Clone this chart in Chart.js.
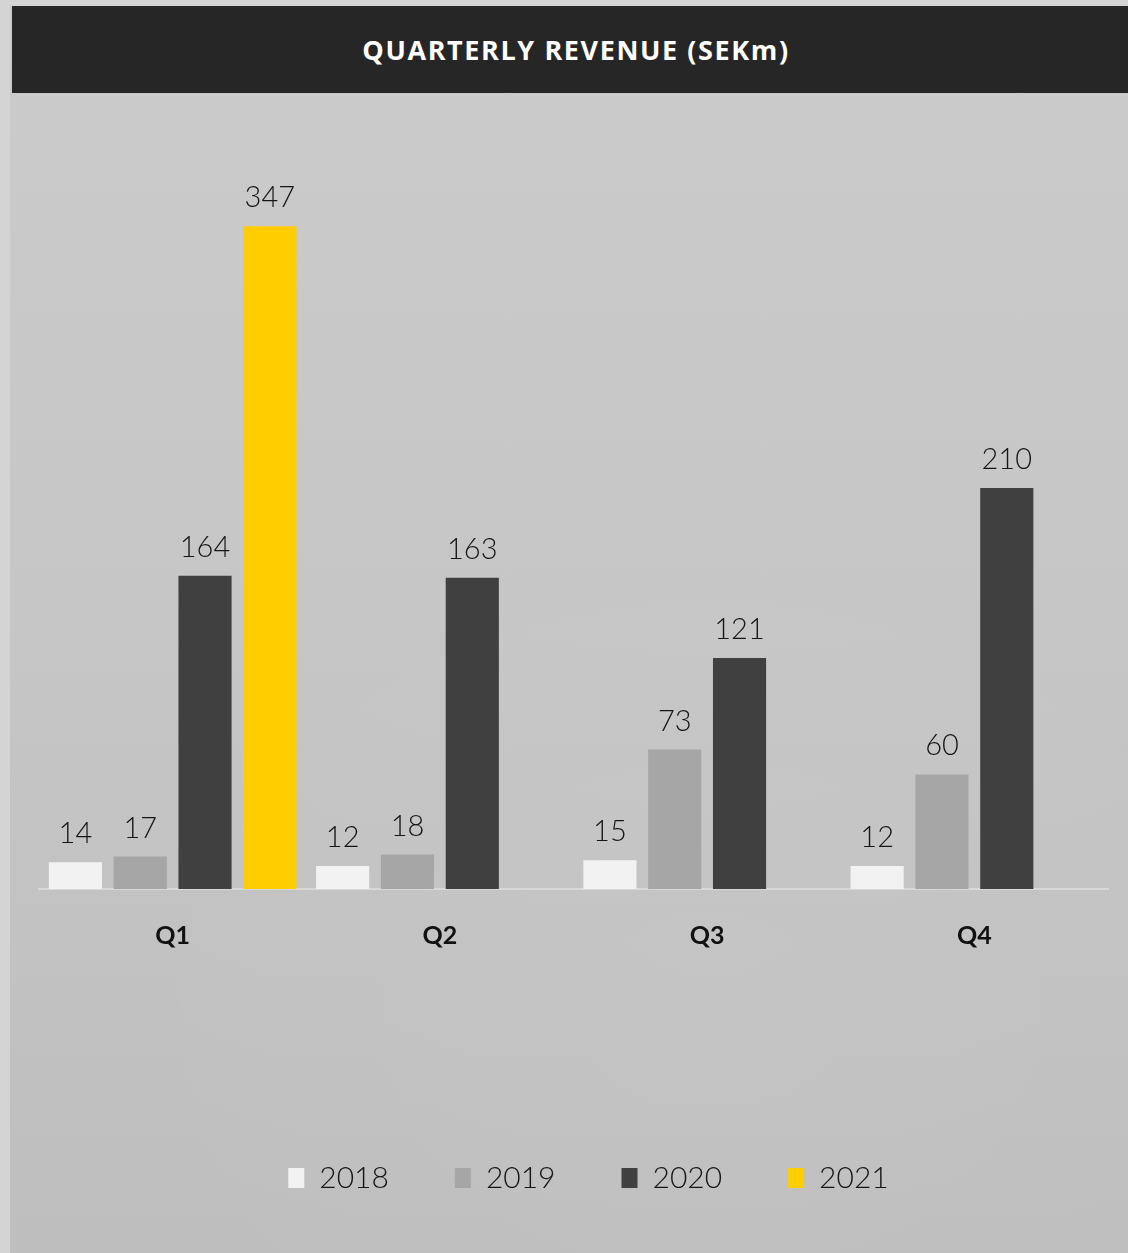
<!DOCTYPE html>
<html lang="en">
<head>
  <meta charset="UTF-8" />
  <title>Quarterly revenue (SEKm)</title>
  <script src="https://cdn.jsdelivr.net/npm/chart.js"></script>
  <style>
    html, body {
      margin: 0;
      padding: 0;
    }
    body {
      width: 1128px;
      height: 1253px;
      position: relative;
      overflow: hidden;
      background: #d4d4d4;
      font-family: Lato, sans-serif;
    }
    .panel {
      position: absolute;
      left: 10px;
      top: 6px;
      right: 0;
      bottom: 0;
      background:
        radial-gradient(ellipse 900px 700px at 700px 1000px, rgba(255,255,255,0.05), rgba(255,255,255,0) 70%),
        linear-gradient(180deg, #cbcbcb 0%, #c6c6c6 50%, #bebebe 100%);
    }
    .header {
      position: absolute;
      left: 12px;
      top: 6px;
      width: 1116px;
      height: 87px;
      background: #262626;
      color: #fff;
      font-family: "Open Sans", sans-serif;
      font-weight: 700;
      font-size: 27px;
      line-height: 87px;
      text-align: center;
      padding-left: 12px;
      box-sizing: border-box;
      letter-spacing: 1.6px;
    }
    #chart {
      position: absolute;
      left: 0;
      top: 0;
    }
  </style>
</head>
<body>
  <div class="panel"></div>
  <div class="header">QUARTERLY REVENUE (SEKm)</div>
  <canvas id="chart" width="1128" height="1253"></canvas>

  <script>
    const quarters = ["Q1", "Q2", "Q3", "Q4"];
    const years = ["2018", "2019", "2020", "2021"];
    const rev2018 = [14, 12, 15, 12];
    const rev2019 = [17, 18, 73, 60];
    const rev2020 = [164, 163, 121, 210];
    const rev2021 = [347, null, null, null];
    const yTicks = [0, 400];

    const colours = ["#f2f2f2", "#a6a6a6", "#404040", "#ffcd00"];
    const series = [rev2018, rev2019, rev2020, rev2021];

    // value over each bar
    const valueLabels = {
      id: 'valueLabels',
      afterDatasetsDraw(chart) {
        const ctx = chart.ctx;
        ctx.save();
        ctx.font = '300 29px Lato, sans-serif';
        ctx.fillStyle = '#151515';
        ctx.textAlign = 'center';
        ctx.textBaseline = 'alphabetic';
        chart.data.datasets.forEach((ds, i) => {
          chart.getDatasetMeta(i).data.forEach((bar, j) => {
            const v = ds.data[j];
            if (v == null) return;
            ctx.fillText(v, bar.x, bar.y - 19);
          });
        });
        ctx.restore();
      }
    };

    // legend sits a little right of the plot centre in the original
    const nudgeLegend = {
      id: 'nudgeLegend',
      afterLayout(chart) {
        chart.legend.left += 15;
        chart.legend.right += 15;
      }
    };

    new Chart(document.getElementById('chart'), {
      type: 'bar',
      data: {
        labels: quarters,
        datasets: years.map((y, i) => ({
          label: y,
          data: series[i],
          backgroundColor: colours[i],
          borderWidth: 0,
          categoryPercentage: 0.97,
          barPercentage: 0.82
        }))
      },
      options: {
        responsive: false,
        animation: false,
        layout: {
          padding: { top: 125, left: 39, right: 20, bottom: 50 }
        },
        scales: {
          x: {
            grid: { display: false, drawTicks: false },
            border: { display: true, color: '#d8d8d8', width: 2 },
            ticks: {
              color: '#111',
              font: { family: 'Lato, sans-serif', size: 25, weight: 'bold' },
              padding: 32
            },
            afterFit(scale) {
              scale.height = 208;
            }
          },
          y: {
            display: false,
            min: yTicks[0],
            max: yTicks[1]
          }
        },
        plugins: {
          legend: {
            position: 'bottom',
            labels: {
              boxWidth: 16,
              boxHeight: 20,
              padding: 66,
              color: '#151515',
              font: { family: 'Lato, sans-serif', size: 30, weight: '300' }
            }
          },
          tooltip: { enabled: false }
        }
      },
      plugins: [valueLabels, nudgeLegend]
    });
  </script>
</body>
</html>
